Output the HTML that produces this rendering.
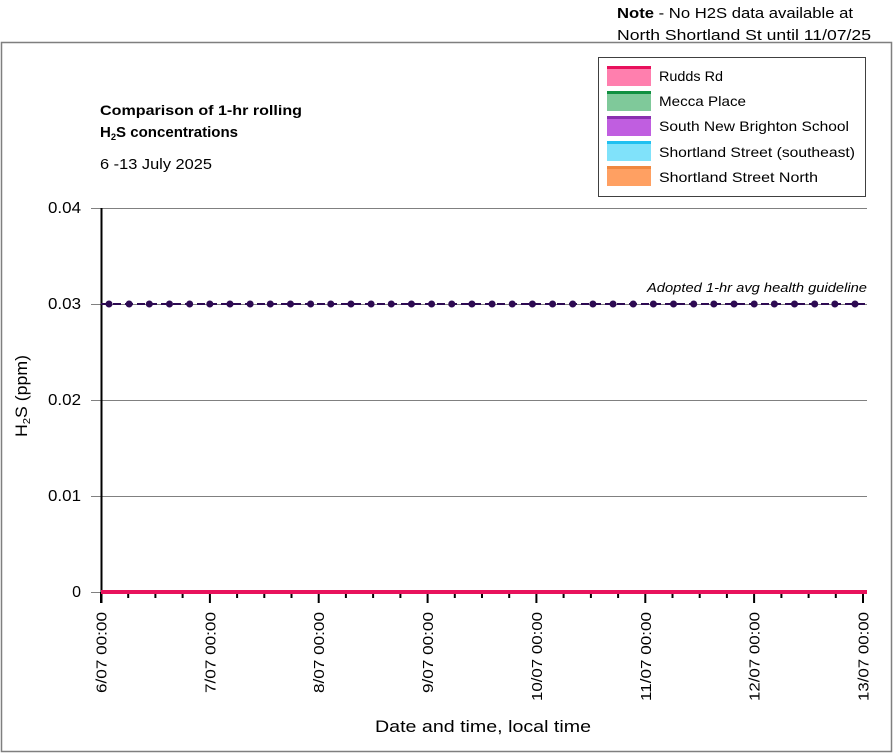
<!DOCTYPE html>
<html><head><meta charset="utf-8"><style>
html,body{margin:0;padding:0;background:#fff;}
svg{display:block;font-family:"Liberation Sans",sans-serif;}
</style></head><body>
<svg width="894" height="753" viewBox="0 0 894 753" xmlns="http://www.w3.org/2000/svg">
<rect x="0" y="0" width="894" height="753" fill="#fff"/>
<!-- outer frame -->
<rect x="1.5" y="42.5" width="890" height="709" fill="none" stroke="#7f7f7f" stroke-width="1.5"/>
<!-- Note -->
<text x="617" y="18" font-size="15" fill="#000" textLength="236" lengthAdjust="spacingAndGlyphs"><tspan font-weight="bold">Note</tspan> - No H2S data available at</text>
<text x="617" y="40" font-size="15" fill="#000" textLength="254" lengthAdjust="spacingAndGlyphs">North Shortland St until 11/07/25</text>
<!-- Title -->
<text x="100" y="115" font-size="14" font-weight="bold" fill="#000" textLength="202" lengthAdjust="spacingAndGlyphs">Comparison of 1-hr rolling</text>
<text x="100" y="137" font-size="14.5" font-weight="bold" fill="#000" textLength="138" lengthAdjust="spacingAndGlyphs">H<tspan font-size="9" dy="3">2</tspan><tspan dy="-3">S concentrations</tspan></text>
<text x="100" y="169" font-size="14.5" fill="#000" textLength="112" lengthAdjust="spacingAndGlyphs">6 -13 July 2025</text>
<!-- Legend -->
<rect x="598.5" y="57.5" width="267" height="139" fill="#fff" stroke="#404040" stroke-width="1"/>
<g>
<rect x="607" y="66" width="44" height="20" fill="#ff7fae"/><rect x="607" y="66" width="44" height="3" fill="#e8105c"/>
<rect x="607" y="91" width="44" height="20" fill="#7fc99a"/><rect x="607" y="91" width="44" height="3" fill="#109040"/>
<rect x="607" y="116" width="44" height="20" fill="#c05ee0"/><rect x="607" y="116" width="44" height="3" fill="#8a30b0"/>
<rect x="607" y="141" width="44" height="20" fill="#80e2fa"/><rect x="607" y="141" width="44" height="3" fill="#20c0f0"/>
<rect x="607" y="166" width="44" height="20" fill="#ffa062"/><rect x="607" y="166" width="44" height="3" fill="#f08840"/>
</g>
<g font-size="14" fill="#000">
<text x="659" y="81" textLength="64" lengthAdjust="spacingAndGlyphs">Rudds Rd</text>
<text x="659" y="106" textLength="87" lengthAdjust="spacingAndGlyphs">Mecca Place</text>
<text x="659" y="131" textLength="190" lengthAdjust="spacingAndGlyphs">South New Brighton School</text>
<text x="659" y="157" textLength="196" lengthAdjust="spacingAndGlyphs">Shortland Street (southeast)</text>
<text x="659" y="182" textLength="159" lengthAdjust="spacingAndGlyphs">Shortland Street North</text>
</g>
<!-- gridlines -->
<g stroke="#808080" stroke-width="1">
<line x1="91" y1="208.5" x2="867" y2="208.5"/>
<line x1="91" y1="304.5" x2="867" y2="304.5"/>
<line x1="91" y1="400.5" x2="867" y2="400.5"/>
<line x1="91" y1="496.5" x2="867" y2="496.5"/>
<line x1="91" y1="592.5" x2="101" y2="592.5"/>
</g>
<!-- y labels -->
<g font-size="16" fill="#000" text-anchor="end">
<text x="81" y="213" textLength="33" lengthAdjust="spacingAndGlyphs">0.04</text>
<text x="81" y="309" textLength="33" lengthAdjust="spacingAndGlyphs">0.03</text>
<text x="81" y="405" textLength="33" lengthAdjust="spacingAndGlyphs">0.02</text>
<text x="81" y="501" textLength="33" lengthAdjust="spacingAndGlyphs">0.01</text>
<text x="81" y="597">0</text>
</g>
<!-- y title -->
<text transform="translate(27,437) rotate(-90)" font-size="16.5" fill="#000" textLength="82" lengthAdjust="spacingAndGlyphs">H<tspan font-size="10.5" dy="3">2</tspan><tspan dy="-3">S (ppm)</tspan></text>
<!-- y axis -->
<line x1="101.5" y1="208" x2="101.5" y2="603" stroke="#000" stroke-width="2"/>
<!-- guideline -->
<line x1="101" y1="304" x2="867" y2="304" stroke="#2d0a52" stroke-width="2" stroke-dasharray="8,4"/>
<g fill="#2d0a52" id="dots"></g>
<text x="867" y="292" font-size="12.5" font-style="italic" fill="#000" text-anchor="end" textLength="220" lengthAdjust="spacingAndGlyphs">Adopted 1-hr avg health guideline</text>
<!-- x ticks -->
<g stroke="#000" stroke-width="2" id="ticks"></g>
<!-- pink data line -->
<line x1="101" y1="592" x2="867" y2="592" stroke="#e8125c" stroke-width="4"/>
<g id="xlabels" font-size="15" fill="#000"></g>
<text x="483" y="732" font-size="16.5" fill="#000" text-anchor="middle" textLength="216" lengthAdjust="spacingAndGlyphs">Date and time, local time</text>
<script>
(function(){
var ns="http://www.w3.org/2000/svg";
var d=document.getElementById("dots");
for(var i=0;i<38;i++){var c=document.createElementNS(ns,"circle");c.setAttribute("cx",(109+i*746/37).toFixed(2));c.setAttribute("cy","304");c.setAttribute("r","3.5");d.appendChild(c);}
var t=document.getElementById("ticks");
var x0=101,dd=(863-101)/7;
for(var k=0;k<=28;k++){var x=x0+k*dd/4;var l=document.createElementNS(ns,"line");l.setAttribute("x1",x.toFixed(1));l.setAttribute("x2",x.toFixed(1));l.setAttribute("y1","592");l.setAttribute("y2",(k%4==0)?"603":"598");t.appendChild(l);}
var g=document.getElementById("xlabels");
var labs=["6/07 00:00","7/07 00:00","8/07 00:00","9/07 00:00","10/07 00:00","11/07 00:00","12/07 00:00","13/07 00:00"];
for(var j=0;j<8;j++){var x=x0+j*dd;var tx=document.createElementNS(ns,"text");tx.setAttribute("transform","translate("+(x+5.5).toFixed(1)+",612) rotate(-90)");tx.setAttribute("text-anchor","end");tx.setAttribute("textLength",labs[j].length==10?"81":"89");tx.setAttribute("lengthAdjust","spacingAndGlyphs");tx.textContent=labs[j];g.appendChild(tx);}
})();
</script>
</svg>
</body></html>
